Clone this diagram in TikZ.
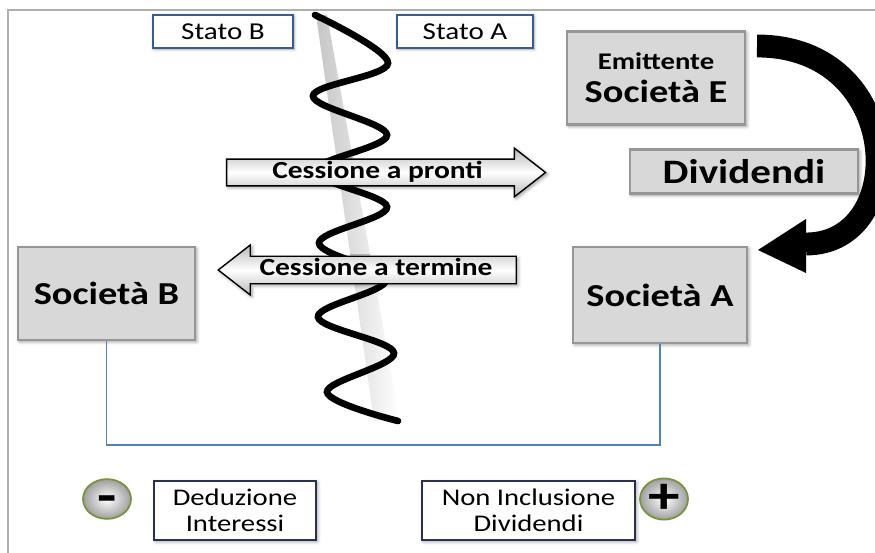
\documentclass[tikz,border=0pt]{standalone}
\usepackage{fontspec}
\setmainfont{Carlito}[FakeStretch=1.2]
\usetikzlibrary{positioning,shapes.geometric,shapes.arrows,shadows.blur}
\definecolor{boxgray}{RGB}{216,216,216}
\definecolor{edgegray}{RGB}{150,150,150}
\definecolor{statoblue}{RGB}{56,93,138}
\definecolor{notenavy}{RGB}{40,50,80}
\definecolor{linkblue}{RGB}{79,129,189}
\definecolor{ringgreen}{RGB}{119,147,60}
\definecolor{framegray}{RGB}{175,175,175}

\begin{document}
\begin{tikzpicture}[x=0.02cm,y=-0.02cm,
societa/.style={draw=edgegray,line width=1.5pt,fill=boxgray,align=center,inner sep=0pt,
    font=\fontsize{18.2}{19}\selectfont\bfseries,blur shadow={shadow xshift=1pt,shadow yshift=-1pt,shadow blur steps=6}},
stato/.style={draw=statoblue,line width=0.8pt,fill=white,minimum height=0.66cm,inner sep=0pt,
    font=\fontsize{13.8}{16}\selectfont,blur shadow={shadow xshift=0.6pt,shadow yshift=-0.6pt,shadow blur steps=4}},
nota/.style={draw=notenavy,line width=1.2pt,fill=white,minimum height=1.18cm,align=center,inner sep=0pt,
    font=\fontsize{13.6}{14.7}\selectfont,blur shadow={shadow xshift=0.8pt,shadow yshift=-0.8pt,shadow blur steps=4}},
cessione/.style={single arrow,draw=black,line width=0.8pt,top color=gray!55,bottom color=gray!55,middle color=white,
    single arrow head extend=0.22cm,single arrow tip angle=76,single arrow head indent=0pt,
    text height=10pt,text depth=3.2pt,inner ysep=0.6pt,inner xsep=0pt,
    font=\fontsize{14}{16}\selectfont\bfseries,blur shadow={shadow xshift=1pt,shadow yshift=-1pt,shadow blur steps=5}},
segno/.style={ellipse,draw=ringgreen,line width=1pt,inner color=white,outer color=gray!75,
    minimum width=0.96cm,minimum height=0.74cm,inner sep=0pt},
legame/.style={draw=linkblue,line width=0.7pt}]
\useasboundingbox (0,0) rectangle (875,553);
\draw[framegray,line width=0.6pt] (875,10) -- (8,10) -- (8,553);

% confine tra i due stati
\shade[left color=gray!45,right color=white] (316,15) -- (327,15) -- (400,421) -- (374,421) -- cycle;
\draw[line width=3.8pt,line cap=round] plot[smooth,tension=0.6] coordinates
  {(315,15) (388,63) (313,96) (387,135) (315,171) (387,207) (319,243) (386,280) (318,317) (394,353) (327,392) (398,421)};

\node (statoB) [stato,minimum width=2.8cm] at (223,31.5) {Stato B};
\node (statoA) [stato,minimum width=2.72cm] at (465,31.5) {Stato A};

\node (socE) [societa,minimum width=3.56cm,minimum height=1.86cm] at (656,78)
  {{\fontsize{13.6}{15}\selectfont Emittente}\\Società E};
\node (divid) [societa,minimum width=4.56cm,minimum height=0.88cm,font=\fontsize{19.5}{21}\selectfont\bfseries] at (744,171.5) {Dividendi};
\node (socA) [societa,minimum width=3.48cm,minimum height=1.92cm] at (660,295) {Società A};
\node (socB) [societa,minimum width=3.54cm,minimum height=1.86cm] at (106.5,293.5) {Società B};

\node (pronti) [cessione,minimum height=6.38cm,minimum width=0.94cm] at (377.5,172.5) {Cessione a pronti};
\node (termine) [cessione,shape border rotate=180,minimum height=5.96cm,minimum width=1cm] at (376,270) {Cessione a termine};

\coordinate (curvaIn) at (757,46);
\coordinate (curvaOut) at (806,244);
\draw[line width=13pt] (curvaIn) .. controls (905,46) and (910,244) .. (curvaOut);
\fill (806,219) -- (758,250) -- (806,273) -- cycle;

\coordinate (fondo) at (400,445);
\draw[legame] (socB.south) |- (fondo) -| (socA.south);

\node (deduz) [nota,minimum width=3.24cm] at (235,510.5) {Deduzione\\Interessi};
\node (nonincl) [nota,minimum width=4.26cm] at (528.5,510.5) {Non Inclusione\\Dividendi};
\node (meno) [segno,font=\fontsize{30}{30}\selectfont\bfseries,text height=16pt,text depth=0pt] at (107,499) {-};
\node (piu) [segno,font=\fontsize{30}{30}\selectfont\bfseries] at (664,499) {+};
\end{tikzpicture}
\end{document}
